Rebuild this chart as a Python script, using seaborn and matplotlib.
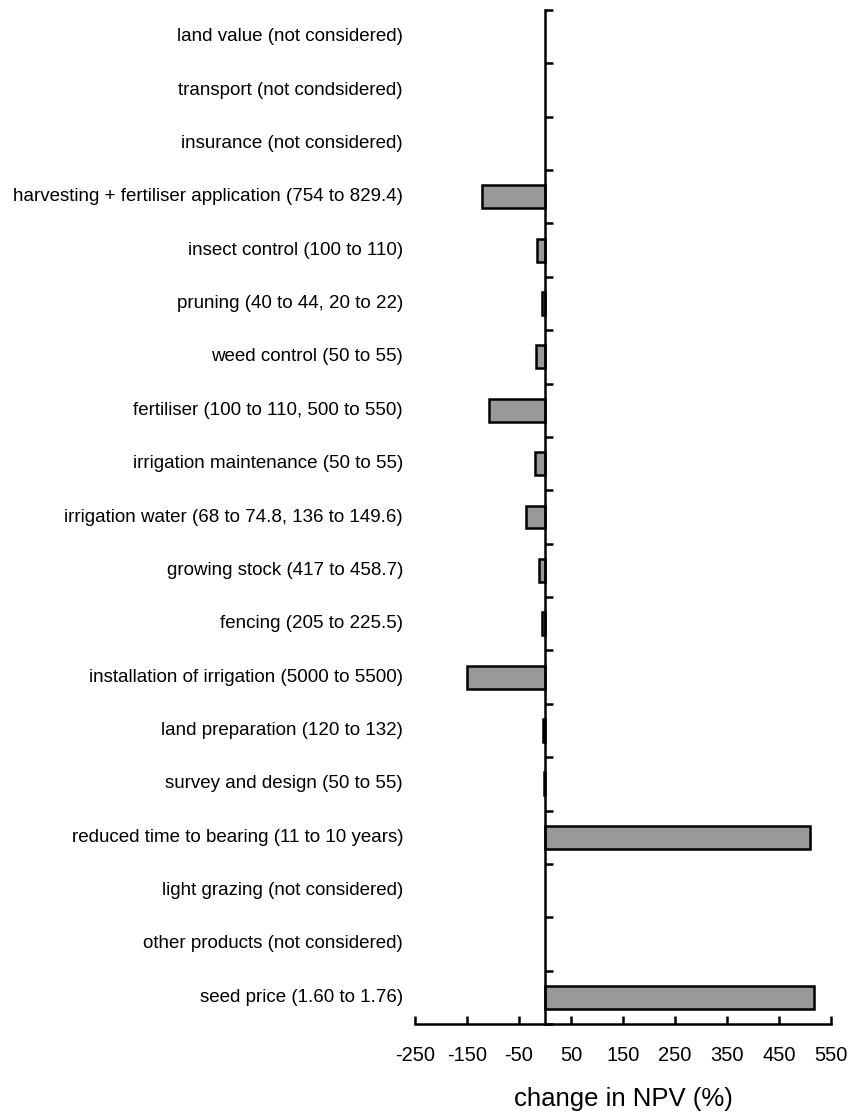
import numpy as np
import pandas as pd
import matplotlib
matplotlib.use("Agg")
import matplotlib.pyplot as plt
import matplotlib.transforms as mtransforms
import seaborn as sns

categories = [
    "land value (not considered)",
    "transport (not condsidered)",
    "insurance (not considered)",
    "harvesting + fertiliser application (754 to 829.4)",
    "insect control (100 to 110)",
    "pruning (40 to 44, 20 to 22)",
    "weed control (50 to 55)",
    "fertiliser (100 to 110, 500 to 550)",
    "irrigation maintenance (50 to 55)",
    "irrigation water (68 to 74.8, 136 to 149.6)",
    "growing stock (417 to 458.7)",
    "fencing (205 to 225.5)",
    "installation of irrigation (5000 to 5500)",
    "land preparation (120 to 132)",
    "survey and design (50 to 55)",
    "reduced time to bearing (11 to 10 years)",
    "light grazing (not considered)",
    "other products (not considered)",
    "seed price (1.60 to 1.76)",
]
npv_change = [0, 0, 0, -122, -15, -5, -18, -108, -19, -37, -11.5, -6, -150, -3, -1.5, 510, 0, 0, 517]
xticks = [-250, -150, -50, 50, 150, 250, 350, 450, 550]

sns.set_style("white")
plt.rcParams["font.family"] = ["Liberation Sans", "DejaVu Sans"]
plt.rcParams["text.color"] = "black"
plt.rcParams["xtick.color"] = "black"
plt.rcParams["ytick.color"] = "black"
plt.rcParams["axes.labelcolor"] = "black"

df = pd.DataFrame({"category": categories, "npv": npv_change})

fig = plt.figure(figsize=(8.52, 11.13), dpi=100)
ax = fig.add_axes([415 / 852, 1 - 1024 / 1113, (831 - 415) / 852, (1024 - 10) / 1113])

sns.barplot(data=df, x="npv", y="category", orient="h", color="#999999",
            edgecolor="black", linewidth=1.8, width=0.43, saturation=1, ax=ax)

# hide zero-width bars (not considered items have no visible bar)
for p in ax.patches:
    if abs(p.get_width()) < 1e-9:
        p.set_visible(False)

ax.set_xlim(-250, 550)
ax.set_ylim(len(categories) - 0.5, -0.5)

for s in ["top", "right"]:
    ax.spines[s].set_visible(False)
ax.spines["left"].set_position(("data", 0))
for s in ["left", "bottom"]:
    ax.spines[s].set_linewidth(1.8)
    ax.spines[s].set_color("black")

ax.set_yticks(np.arange(-0.5, len(categories), 1))
ax.set_yticklabels([])
ax.tick_params(axis="y", left=True, direction="in", length=5.5, width=1.8, color="black")
ax.set_xticks(xticks)
ax.set_xticklabels([str(t) for t in xticks])
ax.tick_params(axis="x", bottom=True, direction="in", length=5.5, width=1.8, color="black",
               labelsize=14.5, pad=16)

ax.set_ylabel("")
ax.set_xlabel("change in NPV (%)", fontsize=18.5, labelpad=16)

trans = mtransforms.blended_transform_factory(ax.transAxes, ax.transData)
for i, lab in enumerate(categories):
    ax.text(-12 / 416, i, lab, transform=trans, ha="right", va="center", fontsize=13.5)

fig.savefig("out.png", dpi=100)
